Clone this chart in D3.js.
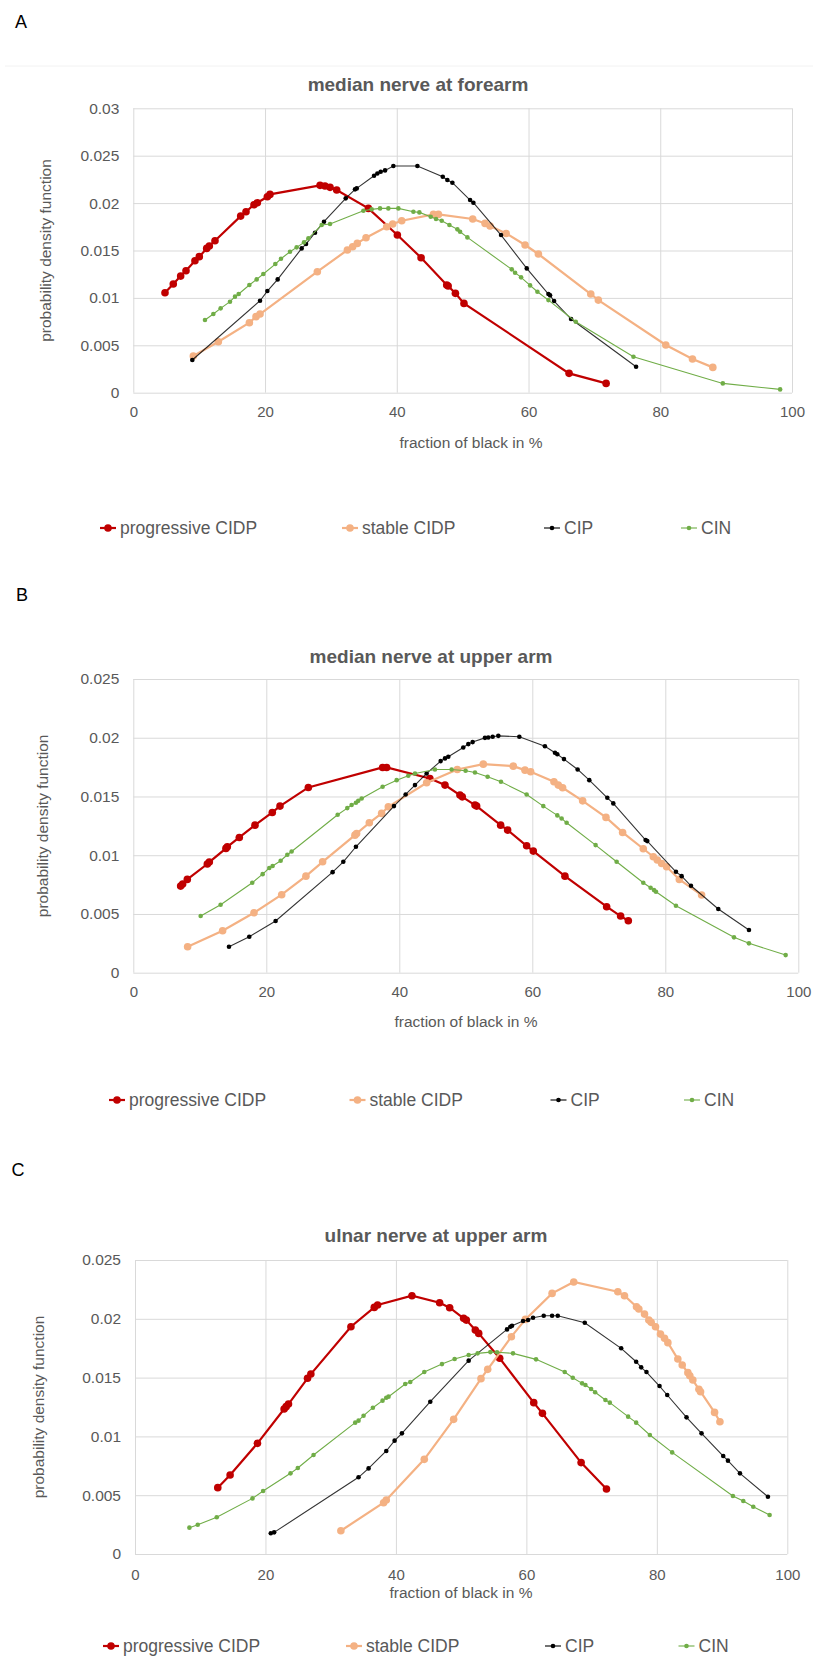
<!DOCTYPE html>
<html>
<head>
<meta charset="utf-8">
<script src="https://cdn.jsdelivr.net/npm/d3@7"></script>
<style>
  body { margin: 0; background: #fff; }
  text { font-family: "Liberation Sans", Arial, sans-serif; }
</style>
</head>
<body>
<script>
// chart data
var seriesNames = ["progressive CIDP", "stable CIDP", "CIP", "CIN"];
var panelTitles = ["median nerve at forearm", "median nerve at upper arm", "ulnar nerve at upper arm"];
var panelLetters = ["A", "B", "C"];
var yMaxes = [0.03, 0.025, 0.025];
var xTicks = [0, 20, 40, 60, 80, 100];
var xLabel = "fraction of black in %";
var yLabel = "probability density function";

// A: median nerve at forearm
var forearmProgressive = [[4.81,0.01055],[6.07,0.01146],[7.19,0.0123],[8.0,0.01287],[9.36,0.01392],[10.02,0.01435],[11.14,0.01522],[11.54,0.01547],[12.4,0.01603],[16.3,0.01863],[17.11,0.01909],[18.32,0.01983],[18.83,0.02004],[20.35,0.02067],[20.75,0.02092],[28.35,0.02187],[29.1,0.0218],[29.87,0.02166],[30.88,0.02138],[35.69,0.01944],[40.09,0.01663],[43.69,0.01424],[47.58,0.01136],[47.8,0.01125],[48.9,0.01048],[50.2,0.00942],[66.16,0.00204],[71.78,0.00098]];
var forearmStable = [[9.11,0.00387],[12.91,0.00538],[17.62,0.00738],[18.63,0.00802],[19.24,0.0083],[27.94,0.01276],[32.5,0.01505],[33.3,0.0154],[34.0,0.01575],[35.33,0.01635],[38.47,0.01751],[39.38,0.01779],[40.75,0.01814],[45.56,0.01881],[46.32,0.01881],[51.53,0.01832],[53.4,0.01786],[54.16,0.01758],[56.6,0.0168],[59.48,0.01558],[61.5,0.01463],[69.45,0.01041],[70.6,0.00977],[80.84,0.00503],[84.89,0.00355],[87.98,0.00267]];
var forearmCIP = [[8.96,0.00345],[19.24,0.0097],[20.35,0.01072],[21.92,0.01195],[25.56,0.01522],[26.22,0.01568],[27.59,0.01688],[28.95,0.01804],[32.25,0.0205],[33.66,0.02145],[33.92,0.02155],[36.55,0.02289],[37.05,0.02313],[37.56,0.02331],[38.22,0.02345],[39.48,0.02391],[43.13,0.02391],[46.98,0.02278],[47.68,0.02243],[48.44,0.02215],[51.13,0.02032],[51.63,0.02004],[55.83,0.01663],[59.73,0.01311],[63.02,0.01041],[63.27,0.01027],[63.88,0.00967],[66.46,0.00777],[76.33,0.00274]];
var forearmCIN = [[10.88,0.00767],[12.15,0.0083],[13.26,0.0089],[14.68,0.0096],[15.44,0.01013],[16.0,0.01041],[17.62,0.01136],[18.73,0.01195],[19.74,0.01252],[21.56,0.01357],[22.42,0.01413],[23.79,0.01487],[24.8,0.01533],[25.92,0.01586],[26.58,0.01628],[28.6,0.01769],[29.87,0.01779],[34.93,0.0192],[36.19,0.01934],[37.46,0.01944],[38.72,0.01944],[40.24,0.01944],[42.52,0.01909],[43.43,0.01902],[45.15,0.01856],[45.96,0.01832],[46.82,0.01814],[47.99,0.01769],[49.2,0.01723],[49.61,0.01698],[50.72,0.01638],[57.45,0.01301],[57.96,0.01266],[58.87,0.01217],[60.24,0.01132],[61.35,0.01065],[63.02,0.00977],[67.17,0.00749],[75.93,0.0038],[89.5,0.00098],[98.2,0.00035]];

// B: median nerve at upper arm
var upperProgressive = [[7.12,0.00737],[7.42,0.00754],[8.12,0.00794],[11.13,0.00925],[11.43,0.00942],[13.93,0.01058],[14.14,0.01072],[15.94,0.01151],[18.3,0.01256],[20.9,0.01364],[22.06,0.01418],[26.32,0.01577],[37.49,0.01747],[38.1,0.01747],[44.6,0.01653],[46.87,0.01597],[49.12,0.01512],[49.47,0.01497],[51.38,0.01427],[51.63,0.01418],[55.24,0.01256],[56.29,0.01214],[59.15,0.0108],[60.15,0.01035],[64.91,0.00822],[71.18,0.00562],[73.28,0.00482],[74.44,0.00442]];
var upperStable = [[8.17,0.00221],[13.43,0.00357],[18.15,0.0051],[22.31,0.00664],[25.96,0.00822],[28.47,0.00944],[33.33,0.01171],[33.58,0.01185],[35.49,0.01276],[37.34,0.01356],[38.35,0.01412],[44.11,0.01617],[48.72,0.0173],[52.63,0.01775],[57.14,0.01758],[58.9,0.01724],[59.75,0.0171],[63.26,0.01625],[63.91,0.01597],[64.56,0.01574],[67.57,0.01463],[71.08,0.01322],[73.58,0.01194],[76.69,0.01055],[78.2,0.00987],[78.8,0.00959],[79.45,0.0093],[80.2,0.00902],[82.11,0.00794],[85.46,0.00661]];
var upperCIP = [[14.39,0.00221],[17.44,0.00306],[21.4,0.0044],[29.97,0.00856],[31.58,0.00944],[33.48,0.01072],[39.2,0.01418],[40.95,0.01517],[42.36,0.01597],[44.11,0.01696],[46.22,0.01801],[46.87,0.01824],[47.37,0.01838],[49.62,0.01917],[50.38,0.01946],[51.03,0.01963],[52.88,0.01999],[53.38,0.02002],[54.04,0.02008],[54.89,0.02016],[58.05,0.02008],[61.9,0.01928],[63.41,0.01872],[63.76,0.0186],[64.76,0.01818],[66.82,0.0173],[68.57,0.01639],[71.28,0.01489],[72.18,0.01441],[77.04,0.01129],[77.29,0.0112],[81.6,0.00859],[82.46,0.00822],[83.86,0.0074],[87.97,0.00542],[92.58,0.00363]];
var upperCIN = [[10.13,0.00482],[13.13,0.00579],[17.89,0.00766],[19.45,0.00839],[20.45,0.00891],[20.95,0.00908],[22.16,0.00953],[23.16,0.01004],[23.81,0.01032],[30.73,0.01344],[32.18,0.01401],[32.83,0.01427],[33.48,0.01446],[33.83,0.01463],[34.34,0.01483],[37.49,0.01583],[39.6,0.01639],[41.35,0.01676],[42.36,0.01696],[45.36,0.0173],[47.87,0.0173],[49.97,0.01719],[51.38,0.01704],[53.28,0.01668],[55.29,0.01625],[59.15,0.01517],[61.65,0.01418],[63.76,0.01339],[64.41,0.01313],[65.16,0.01276],[69.52,0.01086],[72.68,0.00944],[76.69,0.00766],[77.79,0.00723],[78.3,0.00703],[78.6,0.00689],[81.6,0.0057],[90.33,0.00301],[92.58,0.0025],[98.1,0.0015]];

// C: ulnar nerve at upper arm
var ulnarProgressive = [[12.69,0.00564],[14.58,0.00672],[18.77,0.00941],[22.86,0.01233],[23.17,0.01253],[23.53,0.01275],[26.45,0.01494],[26.96,0.0153],[33.1,0.01933],[36.68,0.02097],[37.19,0.02117],[42.46,0.02196],[46.7,0.02137],[48.24,0.02094],[50.38,0.02004],[50.79,0.01989],[52.17,0.01904],[52.69,0.01876],[55.91,0.01664],[61.13,0.01287],[62.46,0.01196],[68.39,0.00777],[72.28,0.00553]];
var ulnarStable = [[31.56,0.00198],[38.11,0.00436],[38.52,0.00459],[44.35,0.00805],[48.85,0.01145],[53.04,0.01491],[54.07,0.0157],[57.7,0.01848],[59.85,0.01995],[63.94,0.02216],[67.26,0.02313],[74.02,0.0223],[75.04,0.02196],[76.88,0.02103],[77.24,0.02083],[78.11,0.0204],[78.77,0.01989],[79.13,0.0197],[79.8,0.01933],[80.56,0.0187],[81.18,0.01834],[81.69,0.01797],[83.22,0.01658],[83.89,0.01607],[84.76,0.01542],[85.06,0.01516],[85.52,0.01479],[86.45,0.014],[86.7,0.0138],[88.85,0.01204],[89.67,0.01125]];
var ulnarCIP = [[20.82,0.00176],[21.33,0.00184],[34.27,0.00652],[35.81,0.00728],[38.52,0.00876],[39.8,0.00964],[40.92,0.01026],[45.27,0.01295],[51.15,0.01644],[57.03,0.0191],[57.54,0.01933],[57.8,0.01941],[59.49,0.01981],[60.26,0.0199],[61.02,0.02009],[62.66,0.02026],[63.94,0.02026],[64.81,0.02026],[68.95,0.01967],[74.53,0.01749],[76.83,0.01635],[77.6,0.01587],[78.41,0.01547],[80.41,0.01428],[81.59,0.01352],[84.55,0.01162],[86.85,0.01026],[90.18,0.00833],[90.9,0.00794],[92.74,0.00686],[97.03,0.00487]];
var ulnarCIN = [[8.34,0.00224],[9.62,0.00249],[12.53,0.00312],[18.01,0.00473],[19.64,0.00536],[23.84,0.00686],[24.96,0.00731],[27.37,0.00842],[33.76,0.01117],[34.27,0.01134],[35.04,0.01176],[36.47,0.01244],[37.95,0.01304],[38.52,0.01329],[38.87,0.01338],[41.43,0.01445],[42.2,0.01462],[44.35,0.01547],[47.06,0.01615],[49.0,0.01658],[51.15,0.01692],[52.53,0.01706],[54.48,0.01717],[55.5,0.01715],[57.95,0.01706],[61.48,0.01655],[65.88,0.01547],[67.11,0.01499],[68.54,0.01451],[69.05,0.01437],[69.92,0.01403],[70.54,0.01375],[72.12,0.01309],[72.79,0.01287],[75.6,0.01168],[76.83,0.01117],[78.93,0.01012],[82.35,0.00864],[91.66,0.00493],[93.25,0.00451],[94.78,0.00402],[97.29,0.00332]];

var panelData = [
  [forearmProgressive, forearmStable, forearmCIP, forearmCIN],
  [upperProgressive, upperStable, upperCIP, upperCIN],
  [ulnarProgressive, ulnarStable, ulnarCIP, ulnarCIN]
];

// series styles
var colors = ["#c00000", "#f4b183", "#000000", "#70ad47"];
var lineW = [2.2, 2.2, 1.1, 1.1];
var radius = [3.8, 3.8, 2.3, 2.3];
var textGray = "#595959";

// page layout per panel
var layout = [
  {l:133.3, r:792, t:108.3, b:392.7, title:[418,84], letter:[21,22], ylab:46, tickDy:19, xlab:[471,443], legY:528, legX:[108,350,552,689]},
  {l:133.3, r:798.3, t:679, b:972.7, title:[431,656], letter:[22,595], ylab:43, tickDy:19, xlab:[466,1022], legY:1100, legX:[117,357.5,558.5,692]},
  {l:135, r:787.3, t:1260, b:1554, title:[436,1235], letter:[18,1170], ylab:39, tickDy:21, xlab:[461,1593], legY:1646, legX:[111,354,553,686.5]}
];

var width = 813, height = 1661;

var svg = d3.select("body").append("svg")
  .attr("width", width)
  .attr("height", height);

// faint chart box edge above panel A
svg.append("line")
  .attr("x1", 5).attr("x2", 813).attr("y1", 66).attr("y2", 66)
  .attr("stroke", "#f2f2f2");

layout.forEach(function(L, p) {
  var x = d3.scaleLinear().domain([0, 100]).range([L.l, L.r]);
  var y = d3.scaleLinear().domain([0, yMaxes[p]]).range([L.b, L.t]);
  var yTicks = d3.range(0, yMaxes[p] + 1e-9, 0.005);

  var g = svg.append("g");

  // panel letter
  g.append("text")
    .attr("x", L.letter[0]).attr("y", L.letter[1])
    .attr("dy", "0.35em")
    .attr("text-anchor", "middle")
    .style("font-size", "18px")
    .attr("fill", "#000")
    .text(panelLetters[p]);

  // title
  g.append("text")
    .attr("x", L.title[0]).attr("y", L.title[1])
    .attr("dy", "0.35em")
    .attr("text-anchor", "middle")
    .style("font-size", "19px")
    .style("font-weight", "bold")
    .attr("fill", textGray)
    .text(panelTitles[p]);

  // y axis with gridlines
  var yAxis = g.append("g")
    .attr("transform", "translate(" + L.l + ",0)")
    .call(d3.axisLeft(y).tickValues(yTicks)
      .tickSize(-(L.r - L.l)).tickPadding(14)
      .tickFormat(function(d) { return d === 0 ? "0" : String(+d.toFixed(3)); }));
  yAxis.select(".domain").remove();
  yAxis.selectAll("line").attr("stroke", "#d9d9d9");
  yAxis.selectAll("text").attr("fill", textGray)
    .style("font-size", "15.5px").attr("font-family", null);

  // x axis with gridlines
  var xAxis = g.append("g")
    .attr("transform", "translate(0," + L.b + ")")
    .call(d3.axisBottom(x).tickValues(xTicks)
      .tickSize(-(L.b - L.t)).tickFormat(d3.format("d")));
  xAxis.select(".domain").remove();
  xAxis.selectAll("line").attr("stroke", "#d9d9d9");
  xAxis.selectAll("text").attr("fill", textGray)
    .attr("y", L.tickDy).attr("dy", "0.35em")
    .style("font-size", "15px").attr("font-family", null);

  // axis titles
  g.append("text")
    .attr("x", L.xlab[0]).attr("y", L.xlab[1])
    .attr("dy", "0.35em")
    .attr("text-anchor", "middle")
    .style("font-size", "15.5px")
    .attr("fill", textGray)
    .text(xLabel);

  g.append("text")
    .attr("transform", "translate(" + L.ylab + "," + ((L.t + L.b) / 2) + ") rotate(-90)")
    .attr("dy", "0.35em")
    .attr("text-anchor", "middle")
    .style("font-size", "15.5px")
    .attr("fill", textGray)
    .text(yLabel);

  var line = d3.line()
    .x(function(d) { return x(d[0]); })
    .y(function(d) { return y(d[1]); });

  // series, drawn in legend order
  panelData[p].forEach(function(pts, s) {
    var sg = g.append("g");
    sg.append("path")
      .datum(pts)
      .attr("d", line)
      .attr("fill", "none")
      .attr("stroke", colors[s])
      .attr("stroke-width", lineW[s])
      .attr("stroke-opacity", s === 2 ? 0.8 : 1);
    sg.selectAll("circle")
      .data(pts)
      .enter().append("circle")
      .attr("cx", function(d) { return x(d[0]); })
      .attr("cy", function(d) { return y(d[1]); })
      .attr("r", radius[s])
      .attr("fill", colors[s]);
  });

  // legend
  seriesNames.forEach(function(name, s) {
    var lx = L.legX[s];
    g.append("line")
      .attr("x1", lx - 8).attr("x2", lx + 8)
      .attr("y1", L.legY).attr("y2", L.legY)
      .attr("stroke", colors[s])
      .attr("stroke-width", lineW[s]);
    g.append("circle")
      .attr("cx", lx).attr("cy", L.legY)
      .attr("r", radius[s])
      .attr("fill", colors[s]);
    g.append("text")
      .attr("x", lx + 12).attr("y", L.legY)
      .attr("dy", "0.35em")
      .style("font-size", "17.5px")
      .attr("fill", textGray)
      .text(name);
  });
});
</script>
</body>
</html>
